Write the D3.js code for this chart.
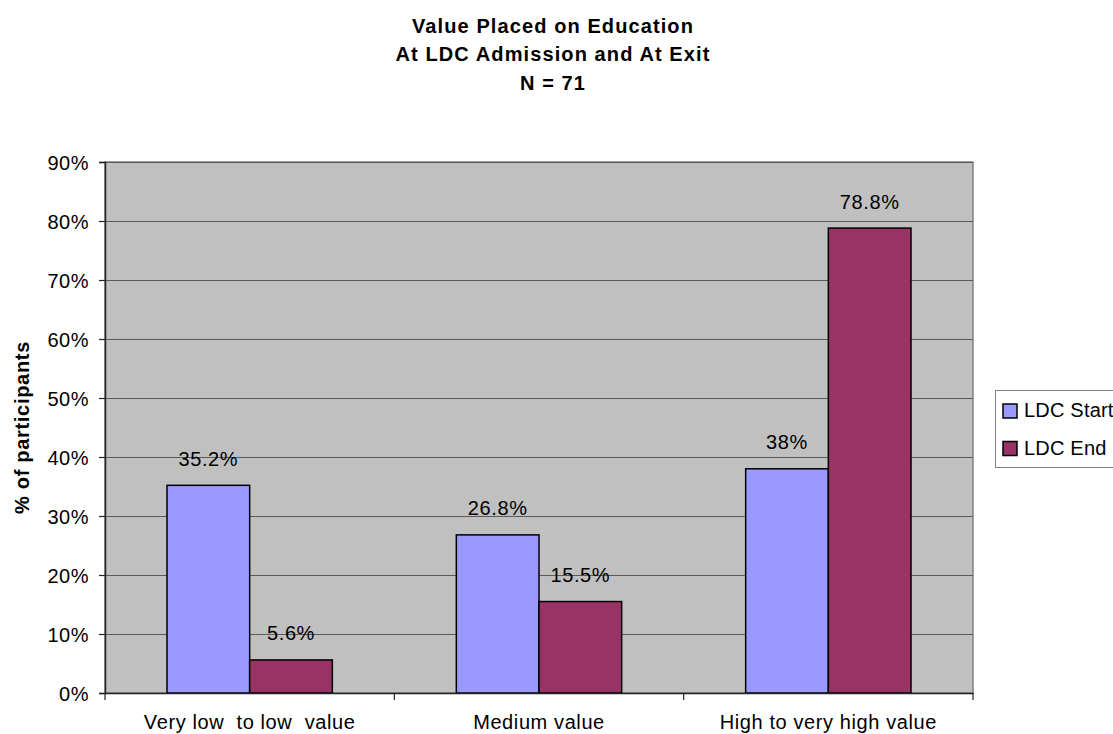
<!DOCTYPE html>
<html>
<head>
<meta charset="utf-8">
<script src="https://cdn.jsdelivr.net/npm/d3@7"></script>
<style>
  html, body { margin: 0; padding: 0; background: #fff; }
  svg text { font-family: Arial, "Liberation Sans", sans-serif; fill: #000; }
</style>
</head>
<body>
<svg id="chart" width="1113" height="734"></svg>
<script>
const categories = ["Very low  to low  value", "Medium value", "High to very high value"];
const seriesNames = ["LDC Start", "LDC End"];
const startValues = [35.2, 26.8, 38];
const endValues = [5.6, 15.5, 78.8];
const startLabels = ["35.2%", "26.8%", "38%"];
const endLabels = ["5.6%", "15.5%", "78.8%"];
const yTicks = [0, 10, 20, 30, 40, 50, 60, 70, 80, 90];
const titleLines = ["Value Placed on Education", "At LDC Admission and At Exit", "N = 71"];
const yAxisTitle = "% of participants";
const colors = ["#9999FF", "#993366"];

const svg = d3.select("#chart");
const L = 105, R = 973, T = 162, B = 693;

const x = d3.scaleBand().domain(categories).range([L, R]).padding(0);
const xs = d3.scaleBand().domain(seriesNames).range([0, x.bandwidth()]).paddingInner(0).paddingOuter(0.75);
const y = d3.scaleLinear().domain([0, 90]).range([B, T]);

// plot background
svg.append("rect").attr("x", L).attr("y", T).attr("width", R - L).attr("height", B - T)
  .attr("fill", "#C0C0C0").attr("stroke", "#808080").attr("stroke-width", 1.5);

// gridlines
svg.append("g").selectAll("line").data(yTicks.filter(d => d > 0)).join("line")
  .attr("x1", L).attr("x2", R)
  .attr("y1", d => Math.round(y(d)) + 0.5).attr("y2", d => Math.round(y(d)) + 0.5)
  .attr("stroke", "#5a5a5a").attr("stroke-width", 1.2);

// bars
const rows = categories.map((c, i) => ({ cat: c, vals: [
  { s: seriesNames[0], v: startValues[i], lab: startLabels[i], c: colors[0] },
  { s: seriesNames[1], v: endValues[i], lab: endLabels[i], c: colors[1] }
]}));

const g = svg.append("g").selectAll("g").data(rows).join("g")
  .attr("transform", d => `translate(${x(d.cat)},0)`);
g.selectAll("rect").data(d => d.vals).join("rect")
  .attr("x", d => xs(d.s)).attr("width", xs.bandwidth())
  .attr("y", d => y(d.v)).attr("height", d => B - y(d.v))
  .attr("fill", d => d.c).attr("stroke", "#000").attr("stroke-width", 1.5);
g.selectAll("text").data(d => d.vals).join("text")
  .attr("x", d => xs(d.s) + xs.bandwidth() / 2).attr("y", d => y(d.v) - 19.5)
  .attr("text-anchor", "middle").style("font-size", "20px").style("letter-spacing", "0.6px")
  .text(d => d.lab);

// y axis
const yAxis = d3.axisLeft(y).tickValues(yTicks).tickFormat(d => d + "%").tickSize(6).tickPadding(10);
const ya = svg.append("g").attr("transform", `translate(${L},0)`).call(yAxis);
ya.select(".domain").attr("stroke", "#222").attr("stroke-width", 1.5);
ya.selectAll(".tick line").attr("stroke", "#222").attr("stroke-width", 1.2);
ya.selectAll(".tick text").style("font-size", "20px").style("letter-spacing", "0.5px")
  .style("font-family", "Arial, 'Liberation Sans', sans-serif").attr("fill", "#000").attr("dy", "0.36em");

// x axis
const xAxis = d3.axisBottom(x).tickSize(0).tickPadding(0).tickFormat("");
const xa = svg.append("g").attr("transform", `translate(0,${B})`).call(xAxis);
xa.select(".domain").attr("stroke", "#222").attr("stroke-width", 1.5);
// category boundary ticks
const bounds = categories.map(c => x(c)).concat([R]);
svg.append("g").selectAll("line").data(bounds).join("line")
  .attr("x1", d => d).attr("x2", d => d).attr("y1", B).attr("y2", B + 7)
  .attr("stroke", "#222").attr("stroke-width", 1.2);
svg.append("g").selectAll("text").data(categories).join("text")
  .attr("x", d => x(d) + x.bandwidth() / 2).attr("y", 729)
  .attr("text-anchor", "middle").style("font-size", "20px").style("letter-spacing", "0.6px")
  .style("white-space", "pre").attr("xml:space", "preserve")
  .text(d => d);

// title
svg.append("g").selectAll("text").data(titleLines).join("text")
  .attr("x", 553).attr("y", (d, i) => 32.5 + i * 28.8)
  .attr("text-anchor", "middle").style("font-size", "20px").style("font-weight", "bold")
  .style("letter-spacing", "1.1px").text(d => d);

// y axis title
svg.append("text").attr("transform", `translate(29,${(T + B) / 2}) rotate(-90)`)
  .attr("text-anchor", "middle").style("font-size", "20px").style("font-weight", "bold")
  .style("letter-spacing", "0.7px").text(yAxisTitle);

// legend
const lg = svg.append("g");
lg.append("rect").attr("x", 995.5).attr("y", 390.5).attr("width", 140).attr("height", 77)
  .attr("fill", "#fff").attr("stroke", "#808080").attr("stroke-width", 1);
const li = lg.selectAll("g").data(seriesNames).join("g")
  .attr("transform", (d, i) => `translate(1003,${404 + i * 37.5})`);
li.append("rect").attr("width", 14).attr("height", 14)
  .attr("fill", (d, i) => colors[i]).attr("stroke", "#000").attr("stroke-width", 1.5);
li.append("text").attr("x", 21).attr("y", 13).style("font-size", "20px").style("letter-spacing", "0.2px")
  .text(d => d);
</script>
</body>
</html>
